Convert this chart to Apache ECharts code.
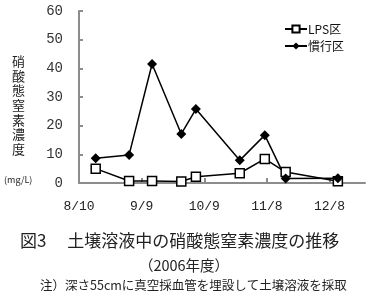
<!DOCTYPE html>
<html><head><meta charset="utf-8">
<script src="https://cdn.jsdelivr.net/npm/echarts@6/dist/echarts.min.js"></script>
<style>html,body{margin:0;padding:0;background:#fff}#c{width:368px;height:296px}</style>
</head><body><div id="c"></div>
<script>
// days after 8/10
var sampleDays = [8, 24, 35, 49, 56, 77, 89, 99, 124];
var lpsValues = [5.0, 0.7, 0.7, 0.5, 2.2, 3.4, 8.4, 3.8, 0.6];
var kankoValues = [8.6, 9.8, 41.5, 17.1, 25.8, 7.9, 16.7, 1.6, 1.7];
var tickDays = [0, 30, 60, 90, 120];
var tickLabels = ['8/10', '9/9', '10/9', '11/8', '12/8'];

var font = '"Noto Sans CJK JP", sans-serif';
var mono = '"Liberation Mono", "DejaVu Sans Mono", monospace';
function pairs(xs, ys){ return xs.map(function(x,i){return [x, ys[i]];}); }
var chart = echarts.init(document.getElementById('c'));
chart.setOption({
  animation: false,
  backgroundColor: '#fff',
  grid: {left: 79, right: 3, top: 11, bottom: 113},
  legend: {
    left: 279, top: 18, orient: 'vertical', itemGap: 5, itemWidth: 22, itemHeight: 9,
    textStyle: {fontFamily: font, fontSize: 12, color: '#111', padding: [0,0,0,-4]},
    data: ['LPS区', '慣行区']
  },
  xAxis: {
    type: 'value', min: 0, max: 137, interval: 30,
    splitLine: {show: false},
    axisLine: {lineStyle: {color: '#8c8c8c', width: 2}},
    axisTick: {inside: true, length: 5, lineStyle: {color: '#8c8c8c', width: 2}, customValues: tickDays},
    axisLabel: {
      customValues: tickDays, margin: 17, fontFamily: mono, fontSize: 13, color: '#222',
      formatter: function(v){ var i = tickDays.indexOf(v); return i >= 0 ? tickLabels[i] : ''; }
    }
  },
  yAxis: {
    type: 'value', min: 0, max: 60, interval: 10,
    splitLine: {show: false},
    axisLine: {show: true, lineStyle: {color: '#8c8c8c', width: 2}},
    axisTick: {show: true, inside: true, length: 4, lineStyle: {color: '#8c8c8c', width: 2}},
    axisLabel: {margin: 16, fontFamily: mono, fontSize: 14, color: '#333'}
  },
  graphic: [
    {type: 'text', left: 12, top: 54, style: {text: '硝\n酸\n態\n窒\n素\n濃\n度', font: '13px ' + font, lineHeight: 14.6, fill: '#222'}},
    {type: 'text', left: 4, top: 175, style: {text: '(mg/L)', font: '9px ' + font, fill: '#222'}},
    {type: 'text', left: 20, top: 232, style: {text: '図3　 土壌溶液中の硝酸態窒素濃度の推移', font: '17px ' + font, fill: '#222'}},
    {type: 'text', left: 'center', top: 258, style: {text: '（2006年度）', font: '14.5px ' + font, fill: '#222'}},
    {type: 'text', left: 40, top: 279, style: {text: '注）深さ55cmに真空採血管を埋設して土壌溶液を採取', font: '12.5px ' + font, fill: '#222'}}
  ],
  series: [
    {
      name: 'LPS区', type: 'line', data: pairs(sampleDays, lpsValues),
      symbol: 'rect', symbolSize: 9,
      lineStyle: {color: '#000', width: 1.5},
      itemStyle: {color: '#fff', borderColor: '#000', borderWidth: 1.5}
    },
    {
      name: '慣行区', type: 'line', data: pairs(sampleDays, kankoValues),
      symbol: 'diamond', symbolSize: 10,
      lineStyle: {color: '#000', width: 1.5},
      itemStyle: {color: '#000', borderColor: '#000', borderWidth: 0}
    }
  ]
});
</script></body></html>
